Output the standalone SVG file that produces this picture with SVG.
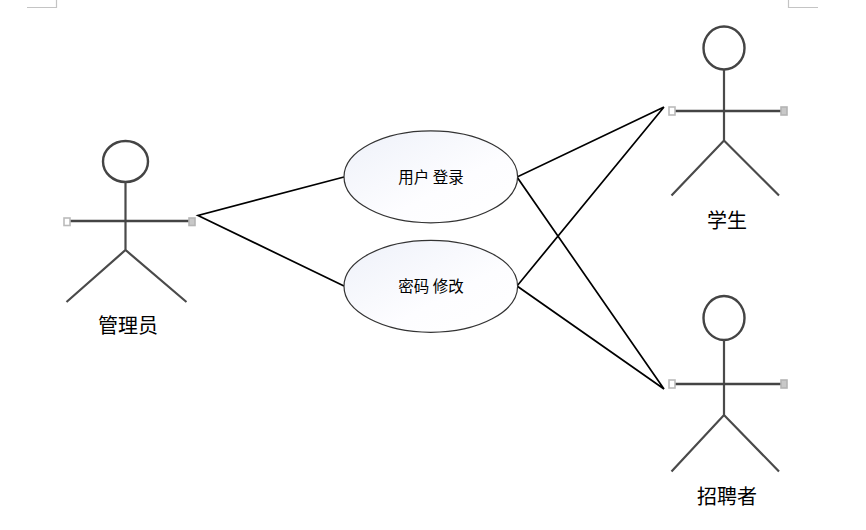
<svg xmlns="http://www.w3.org/2000/svg" width="866" height="530" viewBox="0 0 866 530">
<style>
text{font-family:"Noto Sans CJK SC","Liberation Sans",sans-serif;fill:#000;text-anchor:middle}
.lbl{font-size:20px}
.uc{font-size:15.5px}
.head{fill:#fff;stroke:#444;stroke-width:2.4}
.limb{fill:none;stroke:#4a4a4a;stroke-width:2.2}
.arm{fill:none;stroke:#444;stroke-width:2.6}
.hl{fill:#fff;stroke:#bbb;stroke-width:1.6}
.hr{fill:#c8c8c8;stroke:#b5b5b5;stroke-width:1.6}
.usecase{fill:url(#ucfill);stroke:#333;stroke-width:1.2}
.conn{fill:none;stroke:#000;stroke-width:1.7}
.crop{fill:none;stroke:#c4c4c4;stroke-width:1.2}
</style>
<defs>
<linearGradient id="ucfill" x1="0" y1="0" x2="1" y2="1">
<stop offset="0" stop-color="#eef1f9"/>
<stop offset="0.6" stop-color="#fdfdff"/>
<stop offset="1" stop-color="#ffffff"/>
</linearGradient>
</defs>
<rect width="866" height="530" fill="#fff"/>
<path class="crop" d="M27 7.500H56.500V0M788.500 0V7.500H818"/>
<g id="connectors">
<path class="conn" d="M344 177L198 215.500L344 286"/>
<path class="conn" d="M664 107L517 177L664 389L517 286L664 107"/>
</g>
<g id="admin">
<ellipse class="head" cx="125.500" cy="161.500" rx="22.500" ry="20.500"/>
<path class="limb" d="M125.500 182V250M66.500 302L125.500 250L186.500 302"/>
<path class="arm" d="M70 221H189"/>
<rect class="hl" x="64" y="218" width="6" height="7.500"/>
<rect class="hr" x="189" y="218" width="6" height="7.500"/>
<text class="lbl" x="128" y="333">管理员</text>
</g>
<g id="usecase-login">
<ellipse class="usecase" cx="430.800" cy="176.800" rx="86.800" ry="46"/>
<text class="uc" x="431" y="183">用户 登录</text>
</g>
<g id="usecase-password">
<ellipse class="usecase" cx="430.800" cy="286.300" rx="86.800" ry="46"/>
<text class="uc" x="431" y="292">密码 修改</text>
</g>
<g id="student">
<ellipse class="head" cx="724" cy="48" rx="20.500" ry="21.500"/>
<path class="limb" d="M724 70V140.500M671.500 195.500L724 140.500L779 195.500"/>
<path class="arm" d="M675 111H781"/>
<rect class="hl" x="669" y="107" width="6" height="8"/>
<rect class="hr" x="781" y="107" width="6" height="8"/>
<text class="lbl" x="727" y="228">学生</text>
</g>
<g id="recruiter">
<ellipse class="head" cx="724" cy="318" rx="20.500" ry="22"/>
<path class="limb" d="M724 340V415M671.500 471.500L724 415L779 471.500"/>
<path class="arm" d="M675 384H781"/>
<rect class="hl" x="669" y="380" width="6" height="8"/>
<rect class="hr" x="781" y="380" width="6" height="8"/>
<text class="lbl" x="727" y="503.500">招聘者</text>
</g>
</svg>
